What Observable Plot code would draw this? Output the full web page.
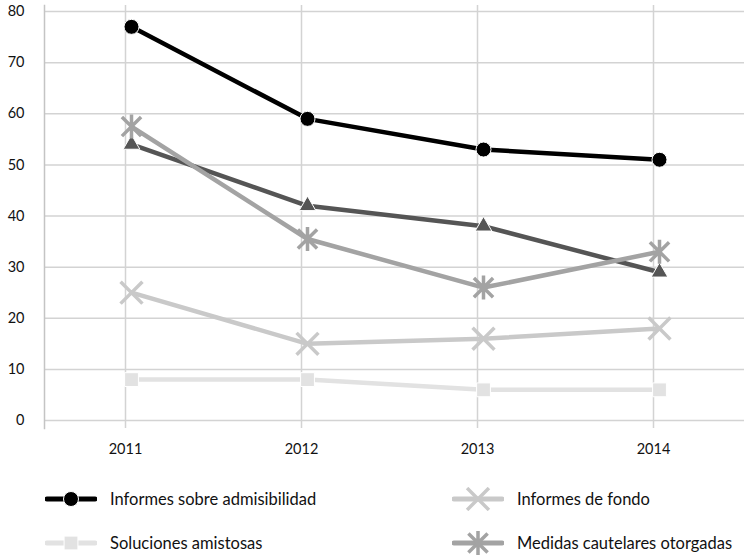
<!DOCTYPE html>
<html><head><meta charset="utf-8">
<script src="https://cdn.jsdelivr.net/npm/d3@7"></script>
<script src="https://cdn.jsdelivr.net/npm/@observablehq/plot@0.6"></script>
<style>
body{margin:0;background:#fff;font-family:Lato,"Open Sans",sans-serif;}
#wrap{position:relative;width:744px;height:558px;overflow:hidden;}
.leg{position:absolute;display:flex;align-items:center;font-size:16.5px;color:#111;height:24px;white-space:nowrap;}
.leg svg{margin-right:13px;}
</style></head><body><div id="wrap"></div>
<script>
// ---- data ----
const years = [2011, 2012, 2013, 2014];
const yTicks = [0, 10, 20, 30, 40, 50, 60, 70, 80];
const admisibilidad = [77, 59, 53, 51];
const serieTriangulo = [54, 42, 38, 29];
const informesFondo = [25, 15, 16, 18];
const solucionesAmistosas = [8, 8, 6, 6];
const medidasCautelares = [57.5, 35.5, 26, 33];
const seriesNames = ["Soluciones amistosas", "Informes de fondo", "Serie sin leyenda", "Medidas cautelares otorgadas", "Informes sobre admisibilidad"];
const seriesValues = [solucionesAmistosas, informesFondo, serieTriangulo, medidasCautelares, admisibilidad];
const legendOrder = ["Informes sobre admisibilidad", "Informes de fondo", "Soluciones amistosas", "Medidas cautelares otorgadas"];

// ---- styles ----
const starSymbol = {draw(ctx, size) {
  const r = Math.sqrt(size / Math.PI);
  ctx.moveTo(-r * 0.8, -r * 0.8); ctx.lineTo(r * 0.8, r * 0.8);
  ctx.moveTo(-r * 0.8, r * 0.8); ctx.lineTo(r * 0.8, -r * 0.8);
  ctx.moveTo(0, -r); ctx.lineTo(0, r);
}};
const styles = {
  "Soluciones amistosas": {color: "#e2e2e2", symbol: "square", r: 7.8, filled: true},
  "Informes de fondo": {color: "#c9c9c9", symbol: "times", r: 10, filled: false},
  "Serie sin leyenda": {color: "#555555", symbol: "triangle", r: 6.2, filled: true},
  "Medidas cautelares otorgadas": {color: "#a3a3a3", symbol: starSymbol, r: 12, filled: false},
  "Informes sobre admisibilidad": {color: "#000000", symbol: "circle", r: 7.5, filled: true}
};

const rows = [];
seriesNames.forEach((name, k) => years.forEach((yr, i) => rows.push({serie: name, year: yr, value: seriesValues[k][i]})));

const OFF = 6;
const marks = [
  Plot.ruleY(yTicks, {stroke: "#d3d3d3", strokeWidth: 1.5}),
  Plot.ruleX(years, {stroke: "#d3d3d3", strokeWidth: 1.5, insetTop: -6, insetBottom: -8}),
  Plot.frame({anchor: "left", stroke: "#c4c4c4", strokeWidth: 1.5, insetTop: -6, insetBottom: -8}),
  Plot.axisY({ticks: yTicks, tickSize: 0, tickPadding: 20, fontSize: 14.5, tickFormat: d => String(d), label: null}),
  Plot.axisX({tickSize: 0, tickPadding: 23, fontSize: 14.5, tickFormat: d => String(d), label: null})
];
seriesNames.forEach(name => {
  const s = styles[name];
  const data = rows.filter(d => d.serie === name);
  marks.push(Plot.line(data, {x: "year", y: "value", stroke: s.color, strokeWidth: 4.5, dx: OFF}));
  marks.push(Plot.dot(data, s.filled
    ? {x: "year", y: "value", symbol: () => s.symbol, r: s.r, fill: s.color, stroke: "#fff", strokeWidth: 1, dx: OFF}
    : {x: "year", y: "value", symbol: () => s.symbol, r: s.r, fill: "none", stroke: s.color, strokeWidth: 3.5, dx: OFF}));
});

const chart = Plot.plot({
  width: 744, height: 460,
  marginLeft: 44, marginRight: 0, marginTop: 11, marginBottom: 40,
  style: {fontFamily: "Lato, 'Open Sans', sans-serif", color: "#111", background: "#fff", overflow: "visible"},
  x: {type: "point", domain: years, range: [124, 653], padding: 0, label: null},
  y: {domain: [0, 80], label: null},
  symbol: {type: "identity"},
  marks
});
const wrap = document.getElementById("wrap");
wrap.appendChild(chart);

// ---- legend ----
const legendPos = [{left: 45, top: 487}, {left: 452, top: 487}, {left: 45, top: 531}, {left: 452, top: 531}];
legendOrder.forEach((name, i) => {
  const s = styles[name];
  const div = document.createElement("div");
  div.className = "leg";
  div.style.left = legendPos[i].left + "px";
  div.style.top = legendPos[i].top + "px";
  const svg = d3.create("svg").attr("width", 52).attr("height", 24);
  svg.append("line").attr("x1", 2).attr("x2", 50).attr("y1", 12).attr("y2", 12)
    .attr("stroke", s.color).attr("stroke-width", 5).attr("stroke-linecap", "round");
  const sym = typeof s.symbol === "string"
    ? {circle: d3.symbolCircle, square: d3.symbolSquare, times: d3.symbolTimes, triangle: d3.symbolTriangle}[s.symbol]
    : s.symbol;
  const path = d3.symbol(sym, Math.PI * s.r * s.r)();
  const p = svg.append("path").attr("d", path).attr("transform", "translate(26,12)");
  if (s.filled) p.attr("fill", s.color).attr("stroke", "#fff").attr("stroke-width", 1);
  else p.attr("fill", "none").attr("stroke", s.color).attr("stroke-width", 3.5);
  div.appendChild(svg.node());
  const span = document.createElement("span");
  span.textContent = name;
  div.appendChild(span);
  wrap.appendChild(div);
});
</script></body></html>
